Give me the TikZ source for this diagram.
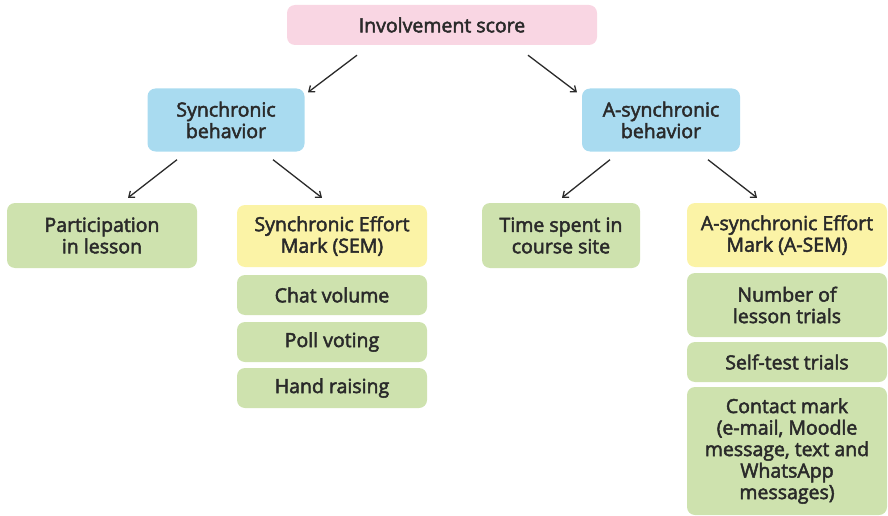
\documentclass[tikz,border=0pt]{standalone}
\usepackage{fontspec}
\setmainfont{Open Sans}
\newfontfamily\labfont{Open Sans}[FakeBold=2.5]
\usetikzlibrary{arrows.meta,calc}
\definecolor{pinkbox}{HTML}{F9D6E3}
\definecolor{bluebox}{HTML}{A9DBF0}
\definecolor{greenbox}{HTML}{CEE2AE}
\definecolor{yellowbox}{HTML}{FBF3A6}
\definecolor{ink}{HTML}{2A2A2A}
\begin{document}
\begin{tikzpicture}[x=1pt,y=-1pt,
  box/.style={rounded corners=8pt,draw=none,align=center,inner sep=0pt,
    font=\labfont\fontsize{19.5}{21.5}\selectfont,text=ink},
  pinkb/.style={box,fill=pinkbox},
  blueb/.style={box,fill=bluebox},
  greenb/.style={box,fill=greenbox},
  yellowb/.style={box,fill=yellowbox},
  arr/.style={draw=ink,line width=1.3pt,-{Straight Barb[length=5pt,width=8pt]}}]
\useasboundingbox (0,0) rectangle (888,516);
\node[pinkb,minimum width=310pt,minimum height=40pt] (top) at (442,25) {Involvement score};
\node[blueb,minimum width=157pt,minimum height=63pt] (sync) at (226,120) {Synchronic\\behavior};
\node[blueb,minimum width=158pt,minimum height=63pt] (async) at (661,120) {A-synchronic\\behavior};
\node[greenb,minimum width=190pt,minimum height=65pt] (part) at (102,235.5) {Participation\\in lesson};
\node[yellowb,minimum width=190pt,minimum height=62pt] (sem) at (332,236) {Synchronic Effort\\Mark (SEM)};
\node[greenb,minimum width=190pt,minimum height=40pt] (chat) at (332,295) {Chat volume};
\node[greenb,minimum width=190pt,minimum height=40pt] (poll) at (332,342) {Poll voting};
\node[greenb,minimum width=190pt,minimum height=40pt] (hand) at (332,388) {Hand raising};
\node[greenb,minimum width=158pt,minimum height=65pt] (time) at (561,235.5) {Time spent in\\course site};
\node[yellowb,minimum width=200pt,minimum height=64pt] (asem) at (787,235) {A-synchronic Effort\\Mark (A-SEM)};
\node[greenb,minimum width=200pt,minimum height=64pt] (num) at (787,305) {Number of\\lesson trials};
\node[greenb,minimum width=200pt,minimum height=40pt] (self) at (787,362) {Self-test trials};
\node[greenb,minimum width=200pt,minimum height=128pt] (contact) at (787,451) {Contact mark\\(e-mail, Moodle\\message, text and\\WhatsApp\\messages)};
\draw[arr] ($(top.south)+(-85,10)$) -- ($(sync.north)+(82,4)$);
\draw[arr] ($(top.south)+(86,10)$) -- ($(async.north)+(-84,4)$);
\draw[arr] ($(sync.south)+(-49,8)$) -- ($(part.north)+(26,-5)$);
\draw[arr] ($(sync.south)+(47,8)$) -- ($(sem.north)+(-10,-7)$);
\draw[arr] ($(async.south)+(-51,8)$) -- ($(time.north)+(1,-5)$);
\draw[arr] ($(async.south)+(47,8)$) -- ($(asem.north)+(-30,-5)$);
\end{tikzpicture}
\end{document}
